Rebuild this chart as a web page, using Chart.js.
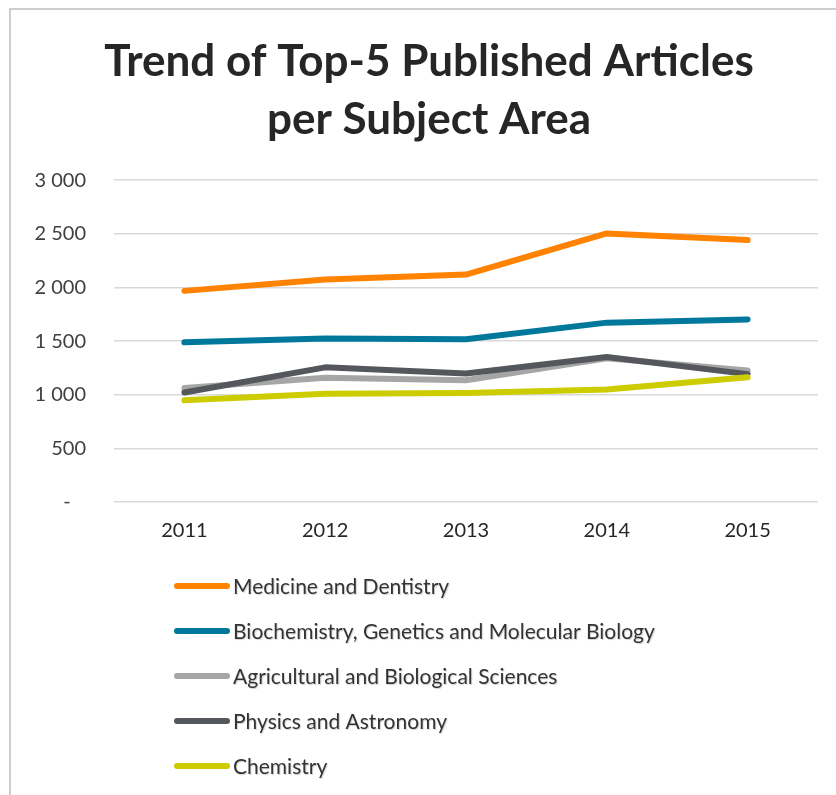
<!DOCTYPE html>
<html>
<head>
<meta charset="utf-8">
<script src="https://cdn.jsdelivr.net/npm/chart.js@4"></script>
<style>
  html, body { margin: 0; padding: 0; background: #fff; }
  #wrap { position: relative; width: 836px; height: 795px; }
</style>
</head>
<body>
<div id="wrap"><canvas id="chart"></canvas></div>
<script>
  // ─── Data ──────────────────────────────────────────
  const years = ['2011', '2012', '2013', '2014', '2015'];

  const seriesNames = [
    'Medicine and Dentistry',
    'Biochemistry, Genetics and Molecular Biology',
    'Agricultural and Biological Sciences',
    'Physics and Astronomy',
    'Chemistry',
  ];

  const medicine = [1968, 2075, 2120, 2503, 2442];
  const biochemistry = [1488, 1524, 1518, 1672, 1702];
  const agricultural = [1063, 1158, 1135, 1340, 1225];
  const physics = [1020, 1255, 1198, 1352, 1192];
  const chemistry = [948, 1010, 1015, 1048, 1162];

  const seriesColors = ['#ff8300', '#00789c', '#a6a6a6', '#54575c', '#cccc00'];

  const titleLines = ['Trend of Top-5 Published Articles', 'per Subject Area'];

  const FONT = 'Lato, "Open Sans", sans-serif';

  // ─── Helpers ───────────────────────────────────────

  function fmtTick(v) {
    if (v === 0) return '-   ';
    return String(v).replace(/\B(?=(\d{3})+(?!\d))/g, ' ');
  }

  // outer frame (top + left edges only are visible in the crop)
  const framePlugin = {
    id: 'frame',
    beforeDraw(chart) {
      const { ctx } = chart;
      ctx.save();
      ctx.strokeStyle = '#bfbfbf';
      ctx.lineWidth = 1.5;
      ctx.beginPath();
      ctx.moveTo(10, chart.height);
      ctx.lineTo(10, 9);
      ctx.lineTo(chart.width, 9);
      ctx.stroke();
      ctx.restore();
    },
  };

  // vertical legend, one item per row, in dataset order
  const stackedLegend = {
    id: 'stackedLegend',
    afterDraw(chart, args, opts) {
      const { ctx } = chart;
      ctx.save();
      ctx.font = `${opts.fontSize}px ${FONT}`;
      ctx.textBaseline = 'middle';
      ctx.textAlign = 'left';
      chart.data.datasets.forEach((ds, i) => {
        const y = opts.top + i * opts.rowGap;
        ctx.strokeStyle = ds.borderColor;
        ctx.lineWidth = ds.borderWidth;
        ctx.lineCap = 'round';
        ctx.beginPath();
        ctx.moveTo(opts.left, y);
        ctx.lineTo(opts.left + opts.lineLength, y);
        ctx.stroke();
        ctx.shadowColor = 'rgba(0,0,0,0.18)';
        ctx.shadowOffsetX = 1;
        ctx.shadowOffsetY = 1;
        ctx.shadowBlur = 1;
        ctx.fillStyle = '#333333';
        ctx.fillText(ds.label, opts.left + opts.lineLength + opts.textGap, y + 1);
        ctx.shadowColor = 'transparent';
      });
      ctx.restore();
    },
  };

  // ─── Chart ─────────────────────────────────────────

  const seriesValues = [medicine, biochemistry, agricultural, physics, chemistry];

  const datasets = seriesValues.map((values, i) => ({
    label: seriesNames[i],
    data: values,
    borderColor: seriesColors[i],
    backgroundColor: seriesColors[i],
    borderWidth: 6,
    borderCapStyle: 'round',
    borderJoinStyle: 'round',
    pointRadius: 0,
    tension: 0,
    fill: false,
    order: seriesValues.length - i, // later series drawn on top
  }));

  new Chart(document.getElementById('chart'), {
    type: 'line',
    data: { labels: years, datasets },
    plugins: [framePlugin, stackedLegend],
    options: {
      responsive: true,
      maintainAspectRatio: false,
      animation: false,
      // left padding pushes the centred title right, like the reference
      layout: { padding: { left: 22, right: 0, top: 0, bottom: 243 } },
      plugins: {
        legend: { display: false },
        tooltip: { enabled: false },
        title: {
          display: true,
          text: titleLines,
          color: '#262626',
          font: { family: FONT, size: 44, weight: 'bold', lineHeight: 1.32 },
          padding: { top: 33, bottom: 31 },
        },
        stackedLegend: {
          left: 177,
          top: 586,
          rowGap: 45,
          lineLength: 50,
          textGap: 6,
          fontSize: 21,
        },
      },
      scales: {
        x: {
          offset: true,
          afterFit: (scale) => { scale.height = 50; },
          grid: { display: false, drawTicks: false },
          border: { display: false },
          ticks: {
            color: '#262626',
            padding: 17,
            font: { family: FONT, size: 20, lineHeight: 1.2 },
          },
        },
        y: {
          min: 0,
          max: 3000,
          afterFit: (scale) => { scale.width = 92; },
          grid: { color: '#d9d9d9', lineWidth: 1.5, drawTicks: false },
          border: { display: false },
          ticks: {
            stepSize: 500,
            color: '#404040',
            padding: 28,
            font: { family: FONT, size: 20 },
            callback: fmtTick,
          },
        },
        // empty right axis: only reserves the margin right of the plot
        yRight: {
          position: 'right',
          min: 0,
          max: 3000,
          afterFit: (scale) => { scale.width = 18; },
          grid: { drawOnChartArea: false, drawTicks: false },
          border: { display: false },
          ticks: { display: false },
        },
      },
    },
  });
</script>
</body>
</html>
